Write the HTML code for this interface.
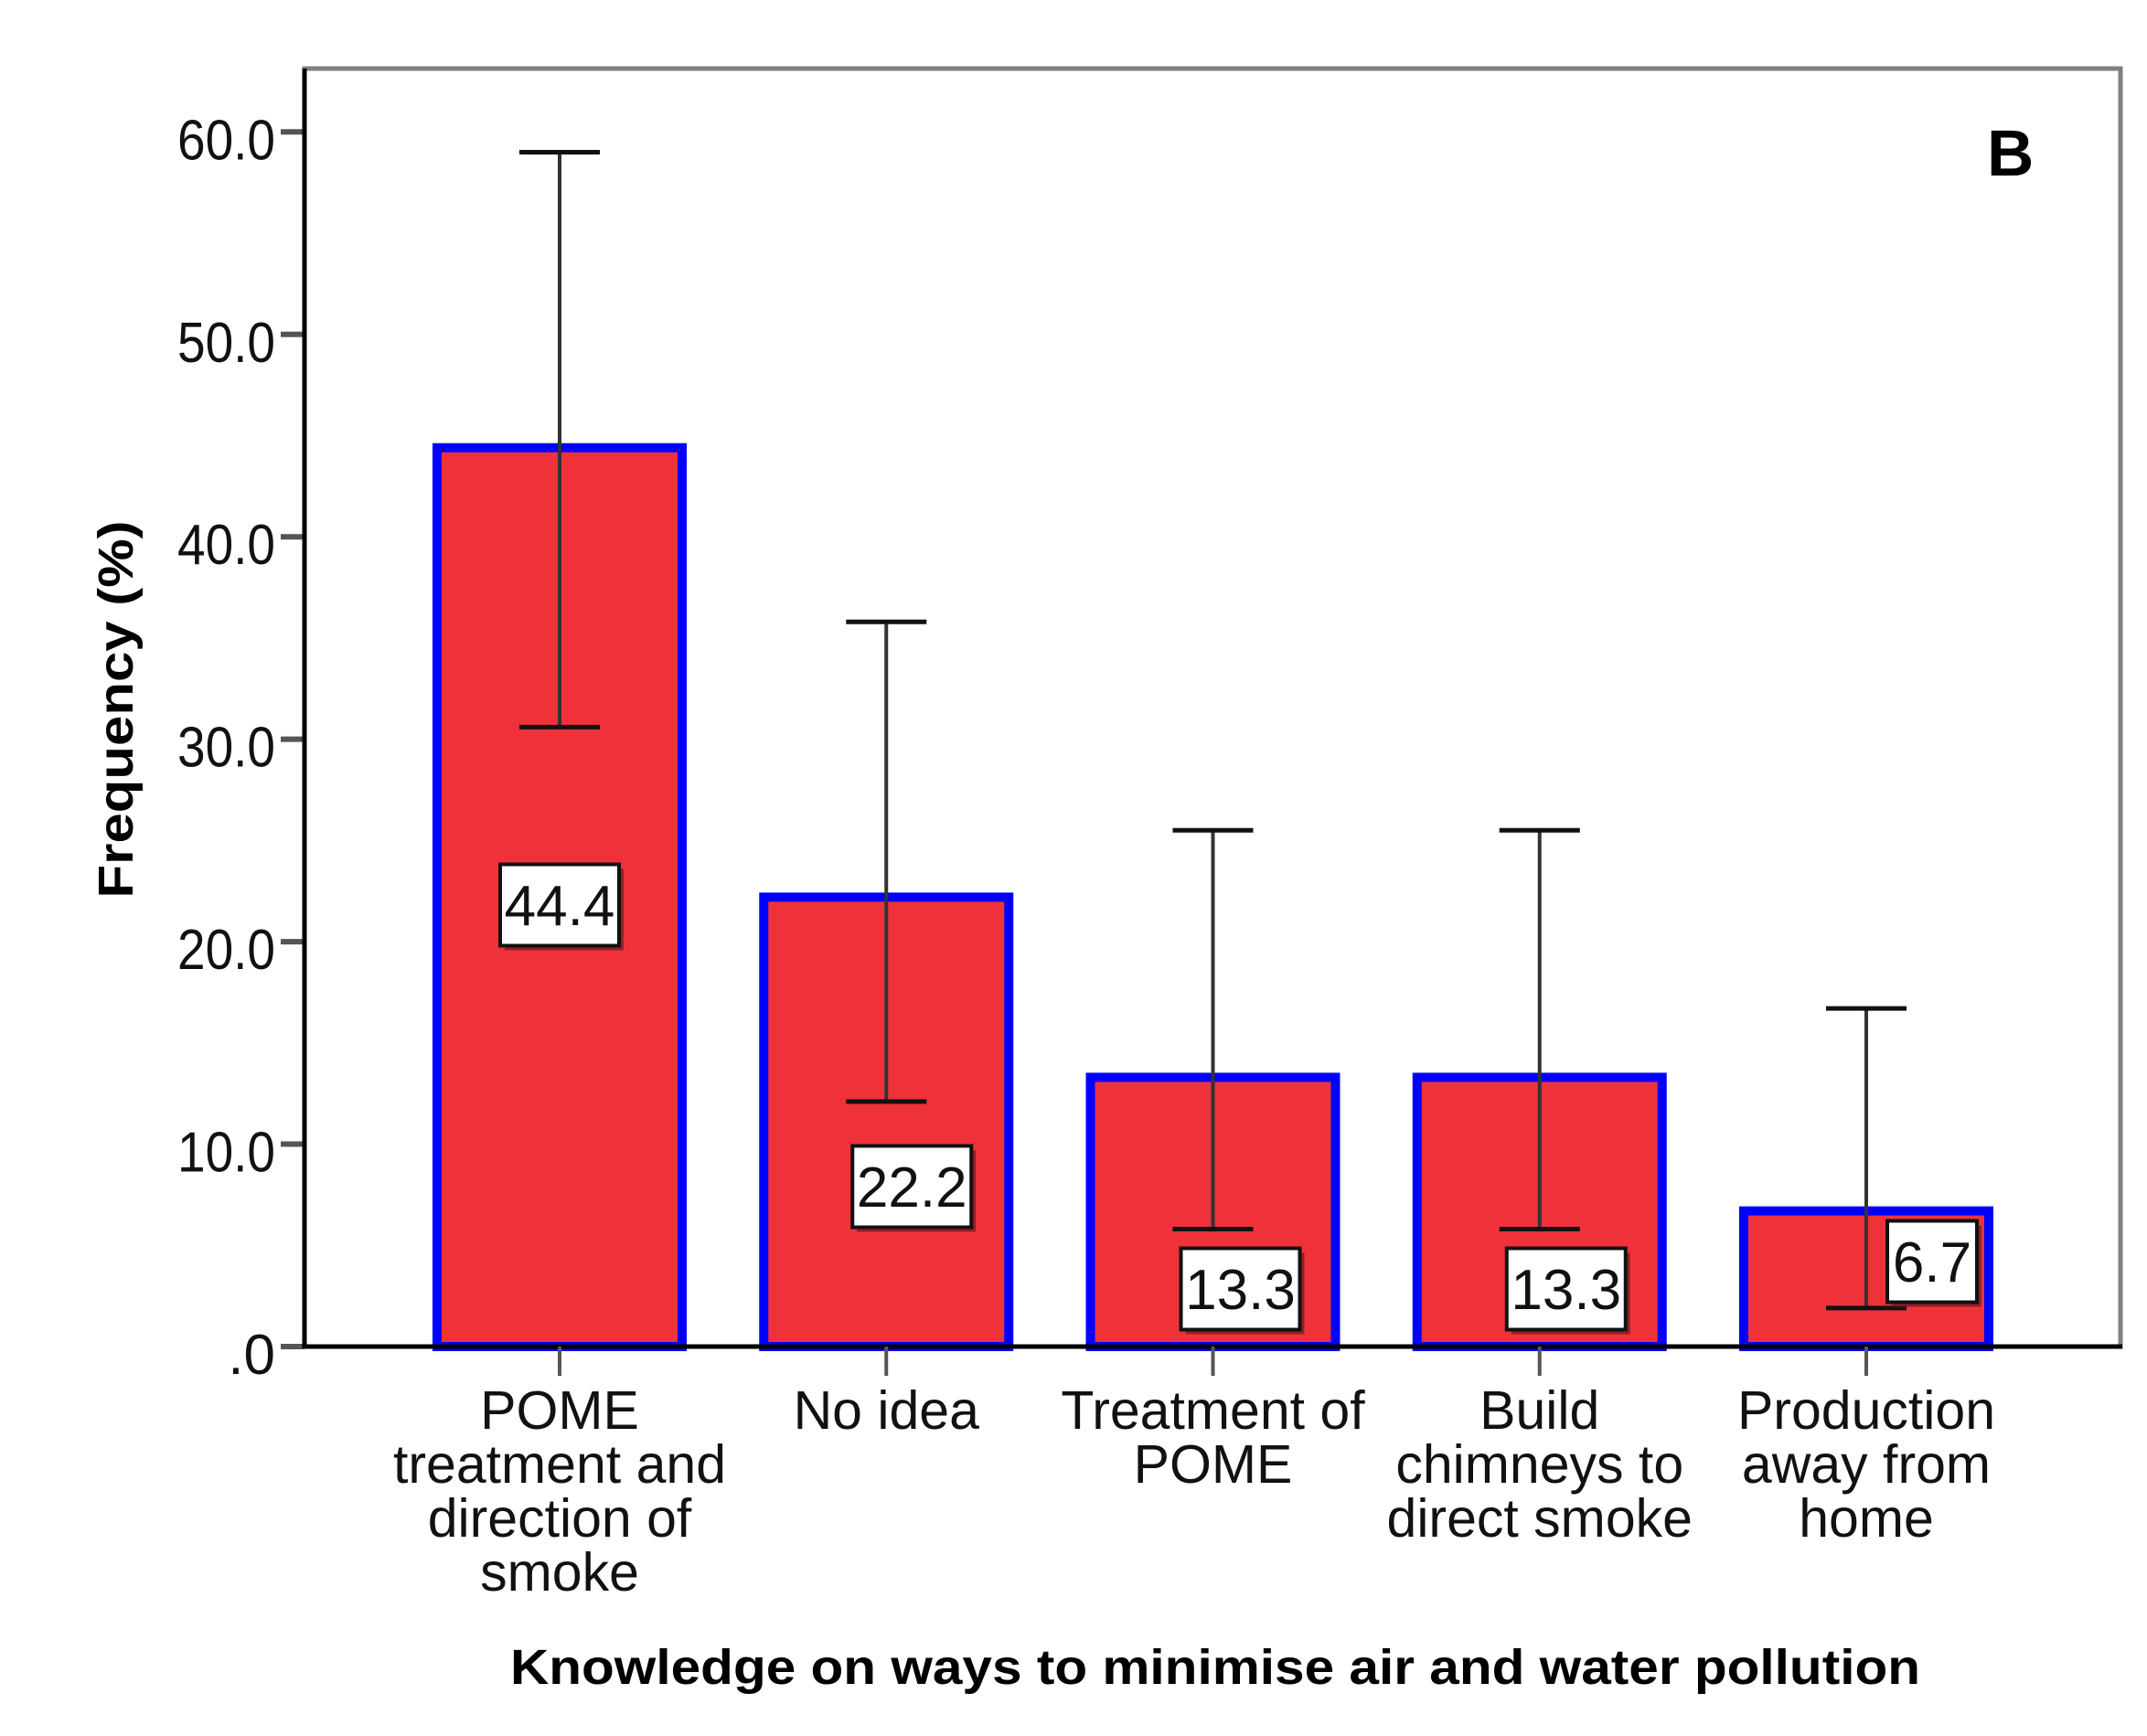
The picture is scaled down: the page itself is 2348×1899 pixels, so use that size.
<!DOCTYPE html>
<html><head><meta charset="utf-8"><style>
html,body{margin:0;padding:0;background:#fff;}
svg{display:block;font-family:"Liberation Sans",Arial,sans-serif;}
</style></head><body>
<svg id="chart" width="2348" height="1899" viewBox="0 0 2348 1899" xmlns="http://www.w3.org/2000/svg">
<rect x="0" y="0" width="2348" height="1899" fill="#fff"/>
<g id="plot"></g>
<text x="2173" y="192" font-size="71" font-weight="bold">B</text>
<text transform="translate(145,776) rotate(-90)" text-anchor="middle" font-size="54" font-weight="bold" textLength="413" lengthAdjust="spacingAndGlyphs">Frequency (%)</text>
<text x="1329" y="1842" text-anchor="middle" font-size="54" font-weight="bold" textLength="1542" lengthAdjust="spacingAndGlyphs">Knowledge on ways to minimise air and water pollution</text>
</svg>
<script>
const categories = [
  ["POME","treatment and","direction of","smoke"],
  ["No idea"],
  ["Treatment of","POME"],
  ["Build","chimneys to","direct smoke"],
  ["Production","away from","home"]
];
const values = [44.4, 22.2, 13.3, 13.3, 6.7];
const errLow = [30.6, 12.1, 5.8, 5.8, 1.9];
const errHigh = [59.0, 35.8, 25.5, 25.5, 16.7];
const valueLabels = ["44.4", "22.2", "13.3", "13.3", "6.7"];
const yTicks = [0, 10, 20, 30, 40, 50, 60];
const yTickLabels = [".0", "10.0", "20.0", "30.0", "40.0", "50.0", "60.0"];

const NS = "http://www.w3.org/2000/svg";
const plot = document.getElementById("plot");
const X0 = 333, X1 = 2319, Y0 = 1473, Y60 = 144.3;
function y(v){ return Y0 - (v/60)*(Y0-Y60); }
function xc(i){ return 612 + i*357.25; }
const BW = 268;
function mk(tag, attrs, parent){
  const e = document.createElementNS(NS, tag);
  for (const k in attrs) e.setAttribute(k, attrs[k]);
  (parent||plot).appendChild(e);
  return e;
}
const fr = mk("rect", {x:X0, y:75, width:X1-X0, height:Y0-75, fill:"none", stroke:"#808080", "stroke-width":5});


yTicks.forEach((t,i)=>{
  const tk = mk("line", {x1:307, x2:X0, y1:y(t), y2:y(t), stroke:"#555", "stroke-width":6});
  
  
  const lb = mk("text", {x:301, y:y(t)+30, "text-anchor":"end", "font-size":62, fill:"#111"});
  if (yTickLabels[i].length === 4) { lb.setAttribute("textLength", 107); lb.setAttribute("lengthAdjust","spacingAndGlyphs"); }
  lb.textContent = yTickLabels[i];
  
  
});
values.forEach((v,i)=>{
  const cx = xc(i);
  const b = mk("rect", {x:cx-BW/2, y:y(v), width:BW, height:Y0-y(v), fill:"#ef323a", stroke:"#0000ff", "stroke-width":10});
  
  
});
const ax = mk("line", {x1:X0, x2:X0, y1:75, y2:Y0+2, stroke:"#000", "stroke-width":5});


const bx = mk("line", {x1:X0, x2:X1+2, y1:Y0, y2:Y0, stroke:"#000", "stroke-width":5});


values.forEach((v,i)=>{
  const cx = xc(i);
  const l = mk("line", {x1:cx, x2:cx, y1:y(errHigh[i]), y2:y(errLow[i]), stroke:"#333", "stroke-width":4});
  
  
  [errHigh[i], errLow[i]].forEach(e=>{
    const c = mk("line", {x1:cx-44, x2:cx+44, y1:y(e), y2:y(e), stroke:"#111", "stroke-width":5});
    
    
  });
});
// value label layout offsets (pixels, not data)
const labelDx = [0, 28, 30, 29, 72];
const labelCy = [990, 1298, 1410, 1410, 1380];
values.forEach((v,i)=>{
  const cx = xc(i) + labelDx[i];
  const w = valueLabels[i].length > 3 ? 130 : 98, h = 89;
  const cy = labelCy[i];
  const sh = mk("rect", {x:cx-w/2+5, y:cy-h/2+5, width:w, height:h, fill:"#6b1a1e", opacity:0.7});
  
  
  const bx2 = mk("rect", {x:cx-w/2, y:cy-h/2, width:w, height:h, fill:"#fff", stroke:"#111", "stroke-width":4});
  
  
  const t = mk("text", {x:cx, y:cy+22, "text-anchor":"middle", "font-size":62, fill:"#111"});
  t.textContent = valueLabels[i];
  
  
});
categories.forEach((lines,i)=>{
  const cx = xc(i);
  const tk = mk("line", {x1:cx, x2:cx, y1:Y0, y2:1505, stroke:"#555", "stroke-width":4});
  
  
  const t = mk("text", {x:cx, y:1563, "text-anchor":"middle", "font-size":59, fill:"#111"});
  
  
  lines.forEach((s,j)=>{
    const ts = mk("tspan", {x:cx, dy: j===0?0:59}, t);
    ts.textContent = s;
  });
});
</script>
</body></html>
